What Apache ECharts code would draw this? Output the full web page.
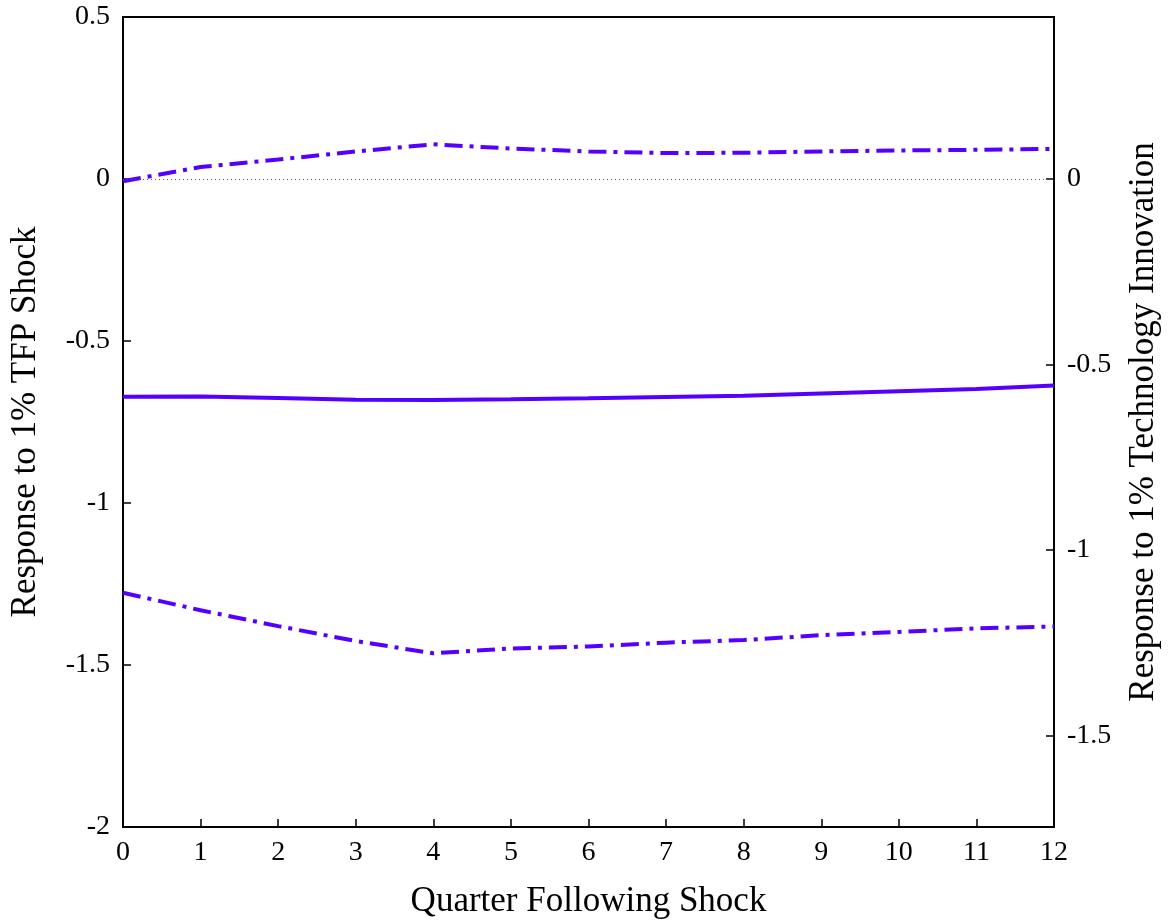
<!DOCTYPE html>
<html>
<head>
<meta charset="utf-8">
<script src="https://cdn.jsdelivr.net/npm/echarts@6/dist/echarts.min.js"></script>
<style>
html,body{margin:0;padding:0;background:#fff;}
#chart{width:1169px;height:924px;}
</style>
</head>
<body>
<div id="chart"></div>
<script>
const quarters = [0,1,2,3,4,5,6,7,8,9,10,11,12];
const responseMid = [-0.672,-0.671,-0.676,-0.681,-0.682,-0.680,-0.677,-0.673,-0.669,-0.662,-0.655,-0.648,-0.637];
const responseUpper = [-0.007,0.037,0.060,0.085,0.107,0.094,0.085,0.080,0.081,0.085,0.088,0.090,0.093];
const responseLower = [-1.277,-1.331,-1.380,-1.426,-1.464,-1.449,-1.443,-1.431,-1.423,-1.408,-1.398,-1.387,-1.381];
const leftTicks = [0.5,0,-0.5,-1,-1.5,-2];
const rightTicks = [0,-0.5,-1,-1.5];
const rightScale = 0.8731;

const font = 'Liberation Serif';
const color = '#5500ff';
const pairs = arr => quarters.map((q,i)=>[q, arr[i]]);

const chart = echarts.init(document.getElementById('chart'), null, {renderer:'canvas'});
chart.setOption({
  animation:false,
  backgroundColor:'#fff',
  grid:{left:123,right:114,top:17,bottom:95,show:true,borderColor:'#000',borderWidth:2,backgroundColor:'transparent'},
  xAxis:{
    type:'value',min:0,max:12,interval:1,
    name:'Quarter Following Shock',nameLocation:'middle',nameGap:57,
    nameTextStyle:{fontFamily:font,fontSize:35,color:'#000'},
    axisLine:{show:true,onZero:false,lineStyle:{color:'#000',width:2}},
    axisTick:{show:true,inside:true,length:8,lineStyle:{color:'#000',width:1.5}},
    axisLabel:{fontFamily:font,fontSize:28,color:'#000',margin:12},
    splitLine:{show:false}
  },
  yAxis:[{
    type:'value',min:-2,max:0.5,interval:0.5,position:'left',
    name:'Response to 1% TFP Shock',nameLocation:'middle',nameGap:80,
    nameTextStyle:{fontFamily:font,fontSize:35,color:'#000'},
    axisLine:{show:true,onZero:false,lineStyle:{color:'#000',width:2}},
    axisTick:{show:true,inside:true,length:8,lineStyle:{color:'#000',width:1.5}},
    axisLabel:{fontFamily:font,fontSize:28,color:'#000',margin:13},
    splitLine:{show:false}
  },{
    type:'value',min:-2*rightScale,max:0.5*rightScale,position:'right',
    name:'Response to 1% Technology Innovation',nameLocation:'middle',nameGap:72,
    nameTextStyle:{fontFamily:font,fontSize:35,color:'#000'},
    axisLine:{show:true,onZero:false,lineStyle:{color:'#000',width:2}},
    axisTick:{show:true,inside:true,length:8,customValues:rightTicks,lineStyle:{color:'#000',width:1.5}},
    axisLabel:{fontFamily:font,fontSize:28,color:'#000',margin:13,customValues:rightTicks},
    splitLine:{show:false}
  }],
  series:[{
    type:'line',data:pairs(responseMid),yAxisIndex:0,symbol:'none',
    lineStyle:{color:color,width:4,type:'solid'},
    markLine:{silent:true,symbol:'none',label:{show:false},
      lineStyle:{color:'#555',width:1,type:[1,3]},data:[{yAxis:0}]}
  },{
    type:'line',data:pairs(responseUpper),yAxisIndex:0,symbol:'none',
    lineStyle:{color:color,width:4,type:[18,7,4,7]}
  },{
    type:'line',data:pairs(responseLower),yAxisIndex:0,symbol:'none',
    lineStyle:{color:color,width:4,type:[18,7,4,7]}
  }]
});
</script>
</body>
</html>
